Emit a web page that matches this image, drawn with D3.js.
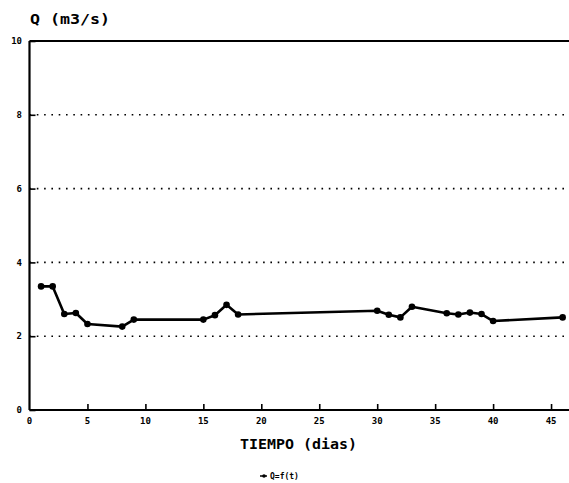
<!DOCTYPE html>
<html>
<head>
<meta charset="utf-8">
<script src="https://cdn.jsdelivr.net/npm/d3@7"></script>
<style>
  html, body { margin: 0; padding: 0; background: #fff; }
  svg { display: block; }
  text { font-family: "DejaVu Sans Mono", monospace; font-weight: bold; fill: #000; }
</style>
</head>
<body>
<svg id="chart" width="569" height="483"></svg>
<script>
// Caudal medido frente al tiempo
const tiempo = [1, 2, 3, 4, 5, 8, 9, 15, 16, 17, 18, 30, 31, 32, 33, 36, 37, 38, 39, 40, 46];
const caudal = [3.35, 3.35, 2.6, 2.63, 2.33, 2.26, 2.45, 2.45, 2.57, 2.85, 2.59, 2.69, 2.58, 2.51, 2.8, 2.62, 2.59, 2.64, 2.6, 2.41, 2.51];
const xTicks = [0, 5, 10, 15, 20, 25, 30, 35, 40, 45];
const yTicks = [0, 2, 4, 6, 8, 10];
const yTitle = "Q (m3/s)";
const xTitle = "TIEMPO (dias)";
const legendLabel = "Q=f(t)";

const svg = d3.select("#chart");

const x = d3.scaleLinear().domain([0, 47]).range([29.5, 29.5 + 47 * 11.59]);
const y = d3.scaleLinear().domain([0, 10]).range([410, 41]);

// dotted grid lines
svg.append("g")
  .selectAll("line")
  .data(yTicks.filter(v => v > 0 && v < 10))
  .join("line")
  .attr("x1", x(0)).attr("x2", 569)
  .attr("y1", d => y(d)).attr("y2", d => y(d))
  .attr("stroke", "#000")
  .attr("stroke-width", 1.6)
  .attr("stroke-dasharray", "1.6,5.7");

// top frame line
svg.append("line")
  .attr("x1", x(0)).attr("x2", 569)
  .attr("y1", y(10)).attr("y2", y(10))
  .attr("stroke", "#000").attr("stroke-width", 2.2);

// y axis
const yAxis = d3.axisRight(y).tickValues(yTicks).tickSize(6).tickFormat("");
const gy = svg.append("g").attr("transform", `translate(${x(0)},0)`).call(yAxis);
gy.select(".domain").attr("stroke-width", 2.2).attr("d", `M0,${y(10)}V${y(0)}`);
gy.selectAll(".tick line").attr("stroke-width", 1.6);

svg.append("g")
  .selectAll("text")
  .data(yTicks)
  .join("text")
  .attr("x", 22)
  .attr("y", d => y(d))
  .attr("dy", "0.35em")
  .attr("text-anchor", "end")
  .attr("font-size", 9)
  .text(d => d);

// x axis
const xAxis = d3.axisTop(x).tickValues(xTicks.filter(v => v > 0)).tickSize(6).tickFormat("");
const gx = svg.append("g").attr("transform", `translate(0,${y(0)})`).call(xAxis);
gx.select(".domain").attr("stroke-width", 2.2).attr("d", `M${x(0)},0H569`);
gx.selectAll(".tick line").attr("stroke-width", 1.6);

svg.append("g")
  .selectAll("text")
  .data(xTicks)
  .join("text")
  .attr("x", d => x(d))
  .attr("y", 421)
  .attr("dy", "0.35em")
  .attr("text-anchor", "middle")
  .attr("font-size", 9)
  .text(d => d);

// titles
svg.append("text")
  .attr("x", 30).attr("y", 24)
  .attr("font-size", 14)
  .attr("textLength", 80)
  .attr("lengthAdjust", "spacingAndGlyphs")
  .text(yTitle);

svg.append("text")
  .attr("x", 240).attr("y", 449)
  .attr("font-size", 14)
  .attr("font-family", "'DejaVu Serif', serif")
  .attr("textLength", 117)
  .attr("lengthAdjust", "spacingAndGlyphs")
  .text(xTitle);

// series line and markers
const pts = tiempo.map((t, i) => [t, caudal[i]]);
svg.append("path")
  .datum(pts)
  .attr("fill", "none")
  .attr("stroke", "#000")
  .attr("stroke-width", 2.6)
  .attr("stroke-linejoin", "round")
  .attr("d", d3.line().x(d => x(d[0])).y(d => y(d[1])));

svg.append("g")
  .selectAll("circle")
  .data(pts)
  .join("circle")
  .attr("cx", d => x(d[0]))
  .attr("cy", d => y(d[1]))
  .attr("r", 3.3)
  .attr("fill", "#000");

// legend
const lg = svg.append("g").attr("transform", "translate(260,476)");
lg.append("line").attr("x1", 0).attr("x2", 7).attr("y1", 0).attr("y2", 0)
  .attr("stroke", "#000").attr("stroke-width", 1.5);
lg.append("circle").attr("cx", 4).attr("cy", 0).attr("r", 1.8).attr("fill", "#000");
lg.append("text")
  .attr("x", 10).attr("y", 0).attr("dy", "0.35em")
  .attr("font-size", 8)
  .text(legendLabel);
</script>
</body>
</html>
